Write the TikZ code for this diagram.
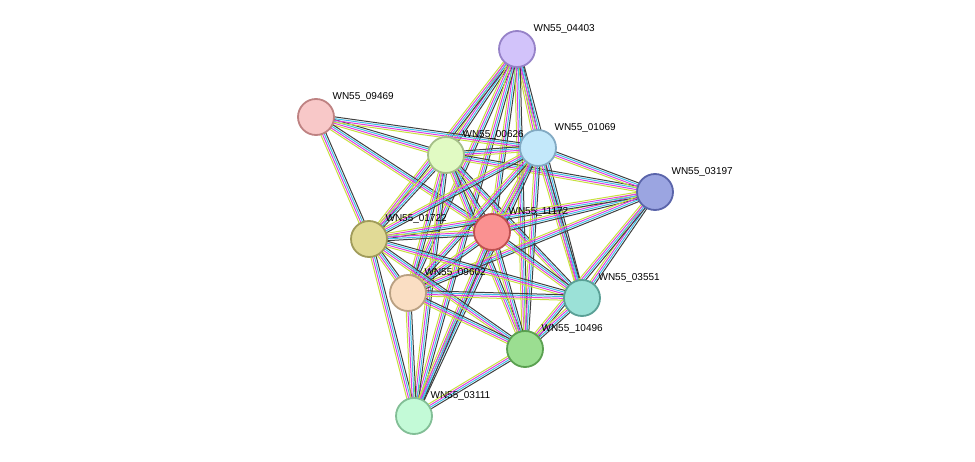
\documentclass[tikz,border=0pt]{standalone}
\usepackage{fontspec}
\setmainfont{Liberation Sans}
\usetikzlibrary{calc}
\pgfdeclarelayer{edges}
\pgfsetlayers{edges,main}

\definecolor{linkgreen}{HTML}{C8E040}
\definecolor{linkmagenta}{HTML}{E040E0}
\definecolor{linkcyan}{HTML}{40C0E8}
\definecolor{linkdark}{HTML}{404040}
\tikzset{
  prot/.style={circle, minimum size=36pt, inner sep=0pt, line width=1.8pt},
  lbl/.style={anchor=west, font=\fontsize{10}{12}\selectfont, inner sep=0pt, xshift=3pt, yshift=7pt},
}
% one bundle of coloured lines between two proteins
\newcommand\ppiedge[2]{%
  \foreach \c/\o in {linkgreen/-2.7pt, linkmagenta/-0.9pt, linkcyan/0.9pt, linkdark/2.7pt}{%
    \draw[\c, line width=1pt] ($(#1)!\o!90:(#2)$) -- ($(#2)!\o!-90:(#1)$);
  }%
}

\begin{document}
\begin{tikzpicture}[x=1pt, y=-1pt]
\useasboundingbox (0,0) rectangle (975,462);

%proteins
\node[prot, fill={rgb,255:red,210;green,195;blue,250}, draw={rgb,255:red,150;green,130;blue,200}] (p04403) at (517,49) [label={[lbl]north east:WN55\_04403}] {};
\node[prot, fill={rgb,255:red,248;green,200;blue,200}, draw={rgb,255:red,190;green,130;blue,130}] (p09469) at (316,117) [label={[lbl]north east:WN55\_09469}] {};
\node[prot, fill={rgb,255:red,225;green,250;blue,195}, draw={rgb,255:red,165;green,190;blue,135}] (p00626) at (446,155) [label={[lbl]north east:WN55\_00626}] {};
\node[prot, fill={rgb,255:red,195;green,232;blue,250}, draw={rgb,255:red,130;green,170;blue,195}] (p01069) at (538,148) [label={[lbl]north east:WN55\_01069}] {};
\node[prot, fill={rgb,255:red,155;green,165;blue,225}, draw={rgb,255:red,90;green,100;blue,170}] (p03197) at (655,192) [label={[lbl]north east:WN55\_03197}] {};
\node[prot, fill={rgb,255:red,250;green,145;blue,145}, draw={rgb,255:red,190;green,80;blue,80}] (p11172) at (492,232) [label={[lbl]north east:WN55\_11172}] {};
\node[prot, fill={rgb,255:red,225;green,218;blue,150}, draw={rgb,255:red,160;green,155;blue,90}] (p01722) at (369,239) [label={[lbl]north east:WN55\_01722}] {};
\node[prot, fill={rgb,255:red,250;green,222;blue,195}, draw={rgb,255:red,185;green,160;blue,130}] (p09602) at (408,293) [label={[lbl]north east:WN55\_09602}] {};
\node[prot, fill={rgb,255:red,155;green,225;blue,215}, draw={rgb,255:red,90;green,160;blue,150}] (p03551) at (582,298) [label={[lbl]north east:WN55\_03551}] {};
\node[prot, fill={rgb,255:red,155;green,222;blue,145}, draw={rgb,255:red,90;green,160;blue,80}] (p10496) at (525,349) [label={[lbl]north east:WN55\_10496}] {};
\node[prot, fill={rgb,255:red,195;green,250;blue,215}, draw={rgb,255:red,130;green,190;blue,150}] (p03111) at (414,416) [label={[lbl]north east:WN55\_03111}] {};

%edges
\begin{pgfonlayer}{edges}
\foreach \b in {00626,01069,11172,01722,09602,03551,10496,03111} {\ppiedge{p04403}{p\b}}
\foreach \b in {00626,01069,01722,11172} {\ppiedge{p09469}{p\b}}
\foreach \b in {01069,03197,11172,01722,09602,03551,10496,03111} {\ppiedge{p00626}{p\b}}
\foreach \b in {03197,11172,01722,09602,03551,10496,03111} {\ppiedge{p01069}{p\b}}
\foreach \b in {11172,01722,03551,10496,09602} {\ppiedge{p03197}{p\b}}
\foreach \b in {01722,09602,03551,10496,03111} {\ppiedge{p11172}{p\b}}
\foreach \b in {09602,03551,10496,03111} {\ppiedge{p01722}{p\b}}
\foreach \b in {03551,10496,03111} {\ppiedge{p09602}{p\b}}
\ppiedge{p03551}{p10496}
\ppiedge{p10496}{p03111}
\end{pgfonlayer}
\end{tikzpicture}
\end{document}
